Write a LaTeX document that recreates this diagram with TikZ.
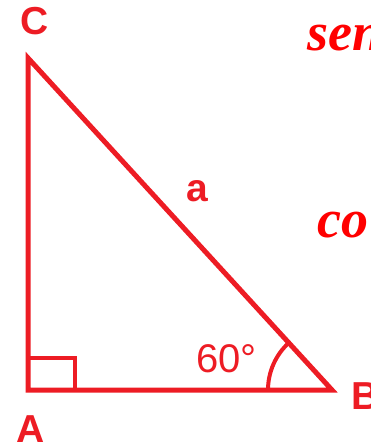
\documentclass[tikz,border=0pt]{standalone}
\usepackage{fontspec}
\setmainfont{Liberation Sans}
\newfontfamily\trigfont{Liberation Serif}
\definecolor{paintred}{RGB}{237,28,36}
\definecolor{purered}{RGB}{255,0,0}
\usetikzlibrary{calc}
\tikzset{
  side/.style={draw=paintred, line width=5pt, line join=miter},
  vlabel/.style={text=paintred, font=\fontsize{39}{40}\selectfont\bfseries, inner sep=0pt},
  anglabel/.style={text=paintred, font=\fontsize{40}{41}\selectfont, inner sep=0pt},
  trig/.style={text=purered, font=\fontsize{54}{55}\selectfont\trigfont\bfseries\itshape, inner sep=0pt, anchor=base west},
}
\begin{document}
\begin{tikzpicture}[x=1pt,y=-1pt]
        \useasboundingbox (0,0) rectangle (370,447);
        \coordinate (A) at (28,390);
        \coordinate (B) at (332,390);
        \coordinate (C) at (28,58);
        \draw[side] (A) -- (B) -- (C) -- cycle;
        \draw[side,line width=4pt] (A) rectangle ++(47,-32);
        \draw[side,line width=4pt] ($(B)+(-64,0)$) arc[start angle=180, end angle=227.5, radius=64];
        \node[vlabel] (labC) at (34.5,21) {C};
        \node[vlabel] (labA) at (31,429) {A};
        \node[vlabel,anchor=west] (labB) at (351,396) {B};
        \node[vlabel] (laba) at (197,191.5) {a};
        \node[anglabel,anchor=base west] (ang) at (196,372) {60°};
        \node[trig] (sen) at (307,50) {sen};
        \node[trig] (cos) at (317,237) {co};
      \end{tikzpicture}
\end{document}
